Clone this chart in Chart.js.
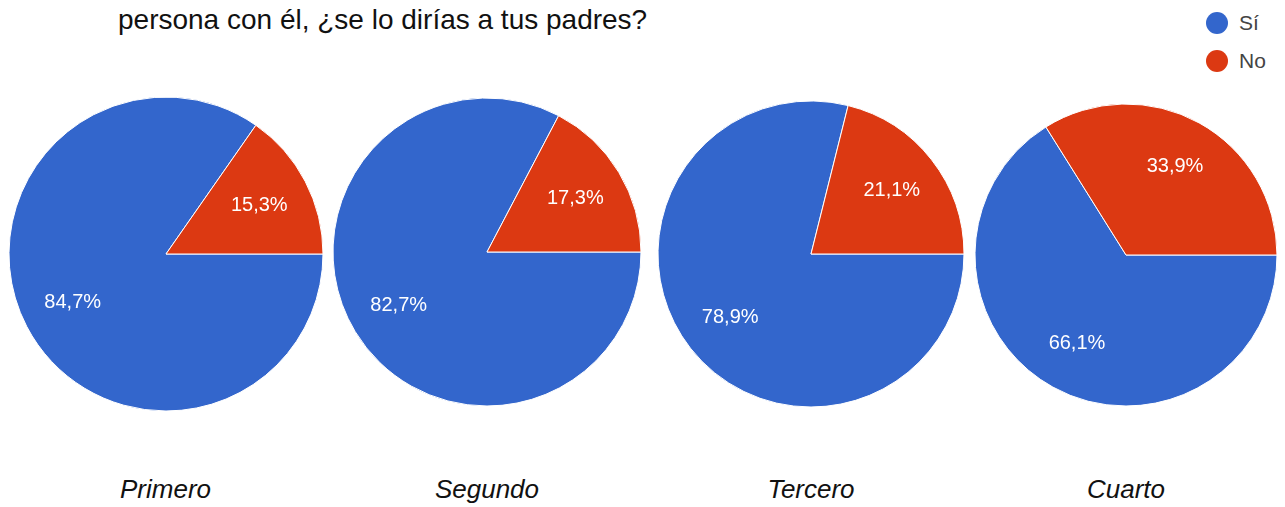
<!DOCTYPE html>
<html lang="es">
<head>
  <meta charset="UTF-8" />
  <title>¿Se lo dirías a tus padres?</title>
  <style>
    body {
      margin: 0;
      width: 1285px;
      height: 507px;
      overflow: hidden;
      background: #ffffff;
      font-family: Arial, "Liberation Sans", sans-serif;
      position: relative;
    }
    .title {
      position: absolute;
      left: 118px;
      top: 4px;
      font-size: 28px;
      color: #111;
      white-space: nowrap;
    }
    .legend {
      position: absolute;
      left: 1206px;
      top: 10px;
      font-size: 21px;
      color: #444;
    }
    .legend div {
      display: flex;
      align-items: center;
      height: 26px;
      margin-bottom: 12px;
    }
    .legend span.dot {
      width: 22px;
      height: 22px;
      border-radius: 50%;
      margin-right: 11px;
    }
    .pie {
      position: absolute;
    }
    .caption {
      position: absolute;
      top: 474px;
      width: 240px;
      text-align: center;
      font-size: 26px;
      font-style: italic;
      color: #111;
    }
  </style>
</head>
<body>
  <div class="title">persona con él, ¿se lo dirías a tus padres?</div>
  <div class="legend" id="legend"></div>
  <div id="charts"></div>

  <script src="https://cdn.jsdelivr.net/npm/chart.js"></script>
  <script>
    const categories = ["Sí", "No"];
    const grades = ["Primero", "Segundo", "Tercero", "Cuarto"];
    const siValues = [84.7, 82.7, 78.9, 66.1];
    const noValues = [15.3, 17.3, 21.1, 33.9];
    const colors = ["#3366cc", "#dc3912"];

    // pie placement (center x, center y, radius)
    const centersX = [165.5, 487, 811, 1126];
    const centersY = [254, 252, 254, 255];
    const radii = [157, 154, 153, 151];

    const legend = document.getElementById("legend");
    categories.forEach((c, i) => {
      const row = document.createElement("div");
      row.innerHTML = `<span class="dot" style="background:${colors[i]}"></span>${c}`;
      legend.appendChild(row);
    });

    const pctLabels = {
      id: "pctLabels",
      afterDatasetsDraw(chart) {
        const ctx = chart.ctx;
        const meta = chart.getDatasetMeta(0);
        const values = chart.data.datasets[0].data;
        ctx.save();
        ctx.fillStyle = "#ffffff";
        ctx.font = "20px Arial, 'Liberation Sans', sans-serif";
        ctx.textAlign = "center";
        ctx.textBaseline = "middle";
        meta.data.forEach((arc, i) => {
          const p = arc.getProps(["x", "y", "startAngle", "endAngle", "outerRadius"], true);
          const mid = (p.startAngle + p.endAngle) / 2;
          const d = p.outerRadius * 0.67;
          const txt = values[i].toFixed(1).replace(".", ",") + "%";
          ctx.fillText(txt, p.x + Math.cos(mid) * d, p.y + Math.sin(mid) * d);
        });
        ctx.restore();
      }
    };

    const holder = document.getElementById("charts");
    grades.forEach((g, i) => {
      const size = radii[i] * 2 + 8;
      const box = document.createElement("div");
      box.className = "pie";
      box.style.left = (centersX[i] - size / 2) + "px";
      box.style.top = (centersY[i] - size / 2) + "px";
      box.style.width = size + "px";
      box.style.height = size + "px";
      const canvas = document.createElement("canvas");
      box.appendChild(canvas);
      holder.appendChild(box);

      const cap = document.createElement("div");
      cap.className = "caption";
      cap.style.left = (centersX[i] - 120) + "px";
      cap.textContent = g;
      document.body.appendChild(cap);

      new Chart(canvas, {
        type: "pie",
        data: {
          labels: categories,
          datasets: [{
            data: [siValues[i], noValues[i]],
            backgroundColor: colors,
            borderColor: "#ffffff",
            borderWidth: 1
          }]
        },
        options: {
          responsive: true,
          maintainAspectRatio: false,
          animation: false,
          rotation: 90,
          radius: radii[i],
          layout: { padding: 0 },
          events: [],
          plugins: {
            legend: { display: false },
            tooltip: { enabled: false }
          }
        },
        plugins: [pctLabels]
      });
    });
  </script>
</body>
</html>
